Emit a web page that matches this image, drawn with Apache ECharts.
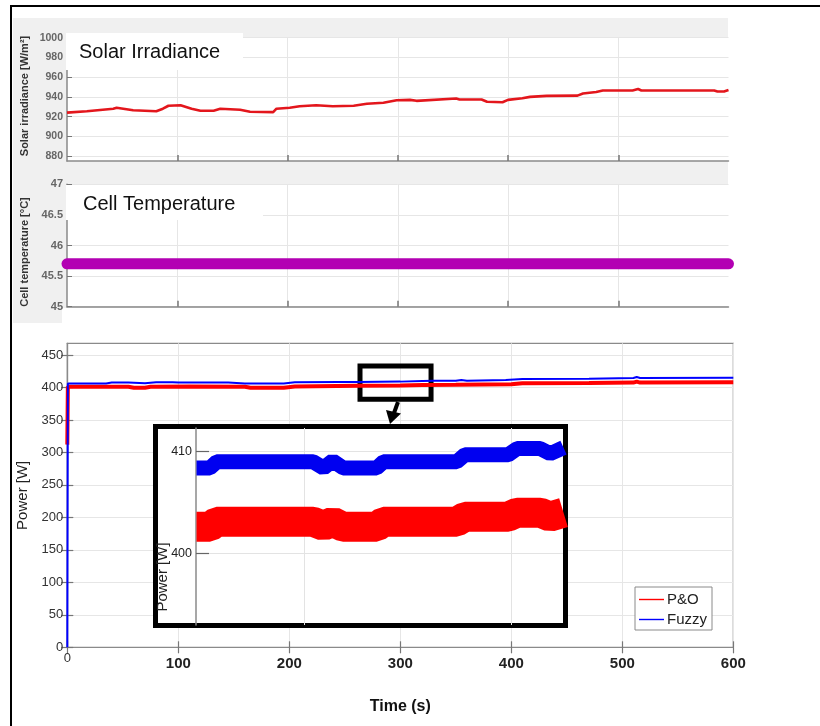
<!DOCTYPE html>
<html>
<head>
<meta charset="utf-8">
<script src="https://cdn.jsdelivr.net/npm/echarts@6.0.0/dist/echarts.min.js"></script>
<style>
  html, body { margin: 0; padding: 0; background: #fff; }
  #chart { width: 820px; height: 726px; }
</style>
</head>
<body>
<div id="chart"></div>
<script>
// ---------------- data ----------------
const timeTicks = [0, 100, 200, 300, 400, 500, 600];
const panelTimeTicks = [100, 200, 300, 400, 500];
const irrTicks = [880, 900, 920, 940, 960, 980, 1000];
const powerTicks = [0, 50, 100, 150, 200, 250, 300, 350, 400, 450];
const insetPowerTicks = [400, 410];
const insetTimeGrid = [280, 320];

const irrTime = [0, 18, 42, 45, 60, 81, 87, 92, 103, 113, 121, 133, 139, 157, 166, 187, 190, 202, 211, 226, 241, 260, 272, 287, 299, 311, 317, 353, 356, 376, 381, 395, 400, 413, 420, 435, 463, 468, 480, 486, 513, 518, 521, 568, 587, 590, 596, 600];
const irrValue = [924, 925.5, 928, 929, 926.5, 925.5, 928, 931, 931.5, 928, 926, 926, 928, 927, 925, 924.5, 928, 929, 930.5, 931.5, 930.5, 931, 933, 934, 936.6, 937, 936, 938.3, 937.3, 937.3, 935, 934.5, 937, 938.7, 940, 941, 941.3, 943.4, 945, 946.5, 946.5, 948, 946.5, 946.5, 946.5, 945.5, 945.5, 947];

const tempTime = [0, 600];
const tempValue = [45.7, 45.7];

const poTime = [0, 0.5, 55, 60, 70, 75, 110, 160, 165, 195, 205, 262, 300, 320, 350, 400, 410, 470, 510, 513, 516, 600];
const poPower = [312, 401, 401, 399.5, 399.5, 401, 401.5, 401, 399.5, 399.5, 401.5, 402.6, 403.1, 403.8, 404, 405, 406.5, 407, 407.5, 409, 407.5, 408];

const fuzzyTime = [0, 0.5, 35, 40, 55, 70, 80, 95, 100, 145, 160, 195, 205, 245, 262, 300, 320, 330, 350, 355, 360, 395, 410, 470, 510, 513, 516, 600];
const fuzzyPower = [0, 406, 406, 407.5, 407.5, 406.5, 408, 408, 407.5, 407.5, 406, 406, 408, 408.5, 408.4, 409, 410, 410.3, 410.5, 411.5, 410.5, 411.5, 413, 413.5, 414.5, 416, 414.5, 414.8];

const insetTime = [259.1, 261.7, 263.0, 281.7, 283.7, 285.5, 287.5, 294.0, 295.3, 309.5, 311.1, 319.5, 321.2, 325.7, 327.6, 330.2];
const insetFuzzy = [408.4, 408.4, 409.0, 409.0, 408.4, 409.1, 408.4, 408.4, 409.0, 409.0, 409.7, 409.7, 410.3, 410.3, 409.8, 410.4];
const insetPO = [402.6, 402.6, 403.1, 403.1, 402.7, 403.1, 402.6, 402.6, 403.1, 403.1, 403.6, 403.6, 404.0, 404.0, 403.6, 404.0];

// zoom window drawn on main plot (time, power)
const zoomWindow = [[263.7, 433], [327.7, 382]];

const zip = (a, b) => a.map((v, i) => [v, b[i]]);

// ---------------- chart ----------------
const chart = echarts.init(document.getElementById('chart'), null, { renderer: 'canvas' });
const FONT = 'Liberation Sans, Arial, sans-serif';
const gridLine = { show: true, lineStyle: { color: '#e6e6e6', width: 1 } };
const axisGray = { show: true, lineStyle: { color: '#8a8a8a', width: 1.5 } };

const option = {
  animation: false,
  backgroundColor: '#ffffff',
  textStyle: { fontFamily: FONT },
  grid: [
    { left: 67, top: 37.7, width: 661.5, height: 123.3, show: true, backgroundColor: '#ffffff', borderWidth: 0 },
    { left: 67, top: 184.3, width: 661.5, height: 122.4, show: true, backgroundColor: '#ffffff', borderWidth: 0 },
    { left: 67.3, top: 343.3, width: 666, height: 304, show: true, backgroundColor: '#ffffff', borderColor: '#8a8a8a', borderWidth: 1.2 },
    { left: 196, top: 428, width: 367, height: 197, show: false, z: 4 }
  ],
  xAxis: [
    { gridIndex: 0, type: 'value', min: 0, max: 600,
      axisLine: axisGray, axisTick: { inside: true, length: 6, customValues: panelTimeTicks, lineStyle: { color: '#777', width: 1.5 } },
      axisLabel: { show: false, customValues: panelTimeTicks }, splitLine: gridLine },
    { gridIndex: 1, type: 'value', min: 0, max: 600,
      axisLine: axisGray, axisTick: { inside: true, length: 6, customValues: panelTimeTicks, lineStyle: { color: '#777', width: 1.5 } },
      axisLabel: { show: false, customValues: panelTimeTicks }, splitLine: gridLine },
    { gridIndex: 2, type: 'value', min: 0, max: 600, position: 'bottom',
      name: 'Time (s)', nameLocation: 'middle', nameGap: 51,
      nameTextStyle: { fontSize: 16, fontWeight: 'bold', color: '#111' },
      axisLine: { show: true, lineStyle: { color: '#8a8a8a', width: 1.2 } },
      axisTick: { inside: true, length: 6, customValues: timeTicks, lineStyle: { color: '#777', width: 1.2 } },
      axisLabel: { margin: 4, customValues: timeTicks,
        formatter: v => v === 0 ? '{z|0}' : '{b|' + v + '}',
        rich: {
          z: { fontSize: 13, color: '#333', lineHeight: 15 },
          b: { fontSize: 15, fontWeight: 'bold', color: '#222', lineHeight: 17, padding: [8, 0, 0, 0] }
        } },
      splitLine: gridLine },
    { gridIndex: 2, type: 'value', min: 0, max: 600, position: 'top',
      axisLine: { show: true, lineStyle: { color: '#8a8a8a', width: 1.2 } },
      axisTick: { inside: true, length: 6, customValues: timeTicks, lineStyle: { color: '#777', width: 1.2 } },
      axisLabel: { show: false, customValues: timeTicks }, splitLine: { show: false } },
    { gridIndex: 3, type: 'value', min: 259, max: 330.1, z: 4,
      axisLine: { show: false }, axisTick: { show: false, customValues: insetTimeGrid },
      axisLabel: { show: false, customValues: insetTimeGrid },
      splitLine: { show: true, lineStyle: { color: '#e3e3e3', width: 1 } } }
  ],
  yAxis: [
    { gridIndex: 0, type: 'value', min: 875, max: 1000,
      axisLine: axisGray,
      axisTick: { inside: true, length: 5, customValues: irrTicks, lineStyle: { color: '#777' } },
      axisLabel: { customValues: irrTicks, margin: 4, fontSize: 10.5, fontWeight: 'bold', color: '#666', formatter: v => String(v) },
      splitLine: gridLine },
    { gridIndex: 1, type: 'value', min: 45, max: 47, interval: 0.5,
      axisLine: axisGray,
      axisTick: { inside: true, length: 5, lineStyle: { color: '#777' } },
      axisLabel: { margin: 4, fontSize: 11, fontWeight: 'bold', color: '#666' },
      splitLine: gridLine },
    { gridIndex: 2, type: 'value', min: 0, max: 468, position: 'left',
      name: 'Power [W]', nameLocation: 'middle', nameGap: 25, nameRotate: 90,
      nameTextStyle: { fontSize: 15, color: '#222' },
      axisLine: { show: true, lineStyle: { color: '#8a8a8a', width: 1.2 } },
      axisTick: { inside: true, length: 6, customValues: powerTicks, lineStyle: { color: '#777', width: 1.2 } },
      axisLabel: { customValues: powerTicks, margin: 4, fontSize: 13, color: '#333' },
      splitLine: gridLine },
    { gridIndex: 2, type: 'value', min: 0, max: 468, position: 'right',
      axisLine: { show: true, lineStyle: { color: '#8a8a8a', width: 1.2 } },
      axisTick: { inside: true, length: 6, customValues: powerTicks, lineStyle: { color: '#777', width: 1.2 } },
      axisLabel: { show: false, customValues: powerTicks }, splitLine: { show: false } },
    { gridIndex: 3, type: 'value', min: 392.94, max: 412.33, z: 4,
      axisLine: { show: true, lineStyle: { color: '#8a8a8a', width: 1.5 } },
      axisTick: { inside: true, length: 13, customValues: insetPowerTicks, lineStyle: { color: '#666', width: 1.2 } },
      axisLabel: { customValues: insetPowerTicks, margin: 4, fontSize: 12.5, color: '#222' },
      splitLine: { show: true, lineStyle: { color: '#e3e3e3', width: 1 } } }
  ],
  legend: {
    data: [{ name: 'P&O', icon: 'rect' }, { name: 'Fuzzy', icon: 'rect' }],
    orient: 'vertical', left: 635, top: 587,
    backgroundColor: '#ffffff', borderColor: '#8a8a8a', borderWidth: 1, borderRadius: 0,
    padding: [5, 5, 3, 4], itemGap: 5, itemWidth: 25, itemHeight: 1.4,
    textStyle: { fontSize: 15, color: '#222', padding: [0, 0, 0, -2] }
  },
  series: [
    { name: 'Irradiance', type: 'line', xAxisIndex: 0, yAxisIndex: 0, symbol: 'none',
      data: zip(irrTime, irrValue), lineStyle: { color: '#e3161c', width: 2.6 }, itemStyle: { color: '#e3161c' } },
    { name: 'Temperature', type: 'line', xAxisIndex: 1, yAxisIndex: 1, symbol: 'none', clip: false,
      data: zip(tempTime, tempValue), lineStyle: { color: '#b300b3', width: 11, cap: 'round' }, itemStyle: { color: '#b300b3' } },
    { name: 'P&O', type: 'line', xAxisIndex: 2, yAxisIndex: 2, symbol: 'none', z: 2,
      data: zip(poTime, poPower), lineStyle: { color: '#ff0000', width: 4 }, itemStyle: { color: '#ff0000' } },
    { name: 'Fuzzy', type: 'line', xAxisIndex: 2, yAxisIndex: 2, symbol: 'none', z: 2,
      data: zip(fuzzyTime, fuzzyPower), lineStyle: { color: '#0000ff', width: 2 }, itemStyle: { color: '#0000ff' },
      markArea: { silent: true, itemStyle: { color: 'rgba(0,0,0,0)', borderColor: '#000', borderWidth: 5 },
        data: [[{ coord: zoomWindow[0] }, { coord: zoomWindow[1] }]] } },
    { name: 'P&O (zoom)', type: 'line', xAxisIndex: 4, yAxisIndex: 4, symbol: 'none', z: 5,
      data: zip(insetTime, insetPO), lineStyle: { color: '#ff0000', width: 30, join: 'bevel' }, itemStyle: { color: '#ff0000' } },
    { name: 'Fuzzy (zoom)', type: 'line', xAxisIndex: 4, yAxisIndex: 4, symbol: 'none', z: 5,
      data: zip(insetTime, insetFuzzy), lineStyle: { color: '#0000f0', width: 15, join: 'bevel' }, itemStyle: { color: '#0000f0' } }
  ],
  graphic: [
    { type: 'rect', z: -1, shape: { x: 13, y: 18, width: 715, height: 290 }, style: { fill: '#f0f0f0' } },
    { type: 'rect', z: -1, shape: { x: 13, y: 308, width: 49, height: 15 }, style: { fill: '#f0f0f0' } },
    { type: 'rect', z: 3, shape: { x: 66, y: 33, width: 177, height: 37 }, style: { fill: '#ffffff' } },
    { type: 'text', z: 3, x: 79, y: 52, style: { text: 'Solar Irradiance', font: '20px ' + FONT, fill: '#111', textVerticalAlign: 'middle' } },
    { type: 'rect', z: 3, shape: { x: 66, y: 185, width: 197, height: 35 }, style: { fill: '#ffffff' } },
    { type: 'text', z: 3, x: 83, y: 204, style: { text: 'Cell Temperature', font: '20px ' + FONT, fill: '#111', textVerticalAlign: 'middle' } },
    { type: 'text', z: 3, x: 25, y: 96, rotation: Math.PI / 2,
      style: { text: 'Solar irradiance [W/m²]', font: 'bold 11px ' + FONT, fill: '#333', textAlign: 'center', textVerticalAlign: 'middle' } },
    { type: 'text', z: 3, x: 25, y: 252, rotation: Math.PI / 2,
      style: { text: 'Cell temperature [°C]', font: 'bold 11px ' + FONT, fill: '#333', textAlign: 'center', textVerticalAlign: 'middle' } },
    { type: 'rect', z: 3, shape: { x: 11, y: 6, width: 830, height: 740 }, style: { fill: 'none', stroke: '#000', lineWidth: 2 } },
    // inset frame
    { type: 'rect', z: 3, shape: { x: 155.5, y: 426.5, width: 410, height: 199 }, style: { fill: '#ffffff', stroke: '#000', lineWidth: 5 } },
    { type: 'text', z: 4, x: 163, y: 577, rotation: Math.PI / 2,
      style: { text: 'Power [W]', font: '15px ' + FONT, fill: '#222', textAlign: 'center', textVerticalAlign: 'middle' } },
    // arrow
    { type: 'line', z: 3, shape: { x1: 398, y1: 402, x2: 394, y2: 413 }, style: { stroke: '#000', lineWidth: 4 } },
    { type: 'polygon', z: 3, shape: { points: [[386, 410], [401, 413.5], [390, 424]] }, style: { fill: '#000' } }
  ]
};
chart.setOption(option);
</script>
</body>
</html>
